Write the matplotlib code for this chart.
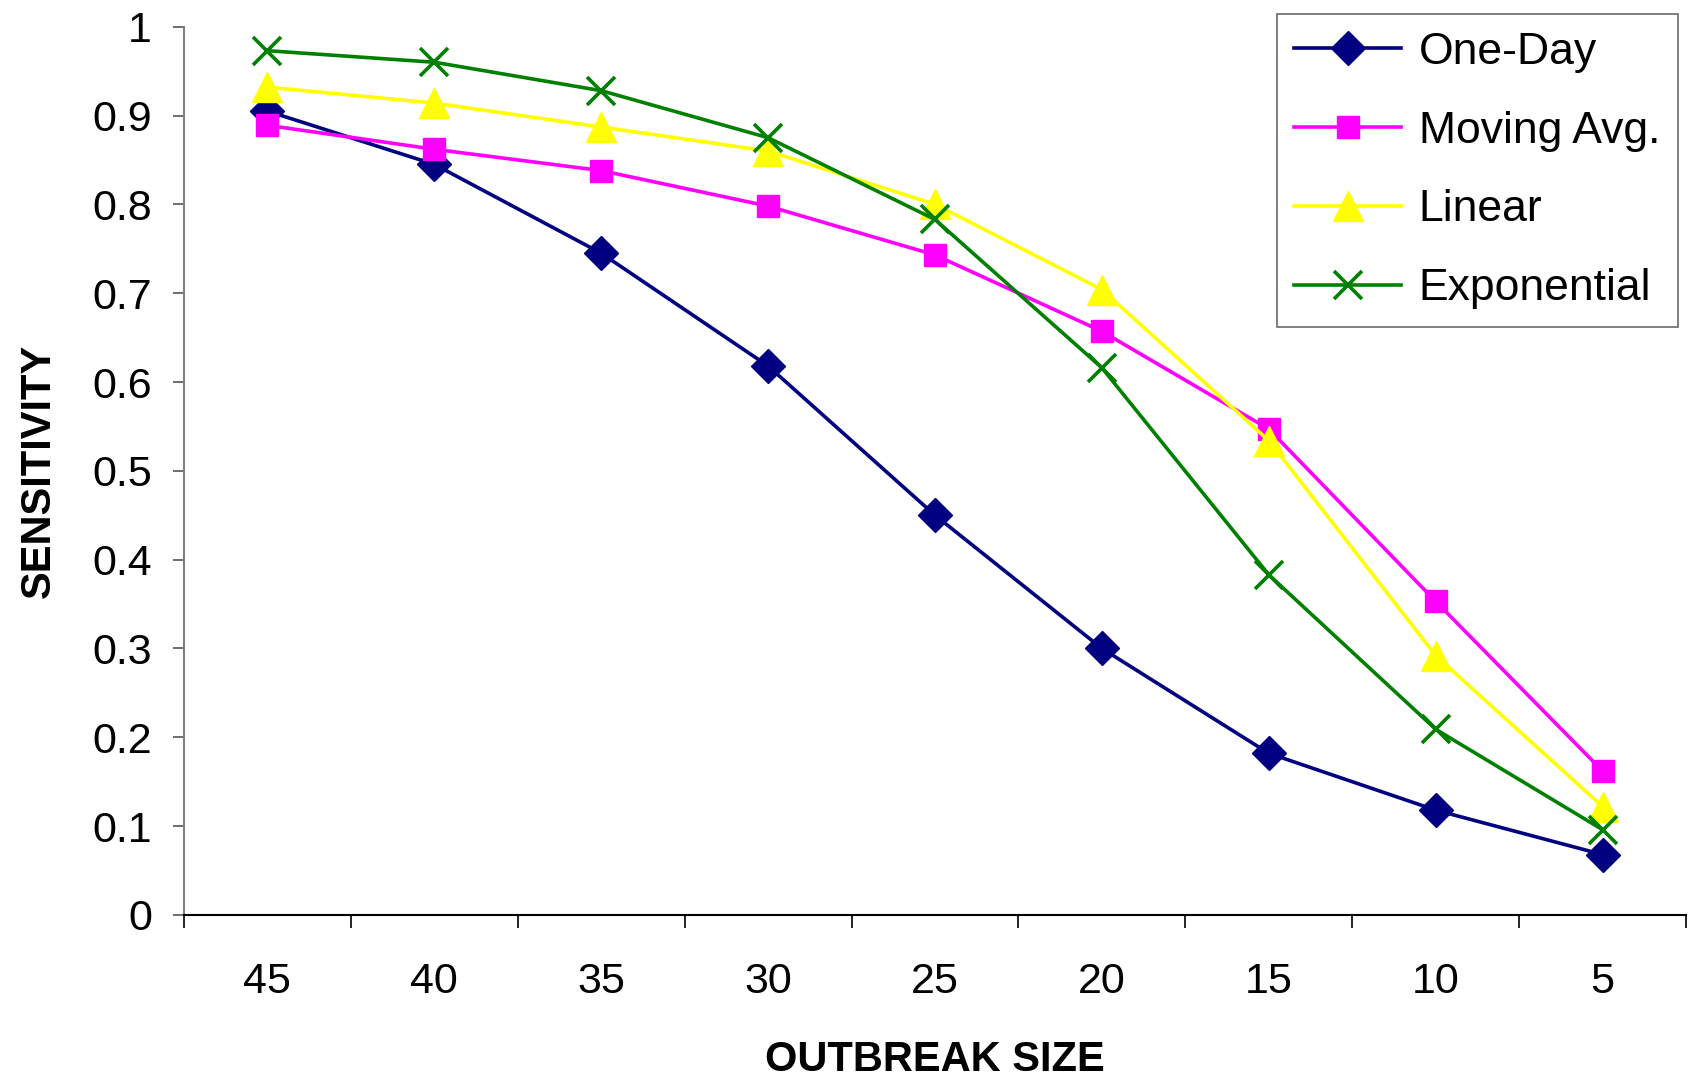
import matplotlib.pyplot as plt
import numpy as np

sizes = ['45', '40', '35', '30', '25', '20', '15', '10', '5']
one_day = [0.905, 0.845, 0.745, 0.618, 0.450, 0.300, 0.182, 0.118, 0.068]
moving_avg = [0.889, 0.862, 0.838, 0.798, 0.743, 0.657, 0.547, 0.353, 0.162]
linear = [0.932, 0.914, 0.887, 0.860, 0.800, 0.704, 0.534, 0.292, 0.122]
exponential = [0.973, 0.960, 0.928, 0.875, 0.783, 0.616, 0.383, 0.209, 0.096]

plt.rcParams['font.family'] = ['Liberation Sans', 'DejaVu Sans']

fig = plt.figure(figsize=(16.94, 10.81), dpi=100)
ax = fig.add_axes([0.1086, 0.1536, 0.8867, 0.8217])

x = np.arange(len(sizes))
ax.plot(x, one_day, color='#000080', lw=2.6, marker='D', ms=17, label='One-Day')
ax.plot(x, moving_avg, color='#FF00FF', lw=2.6, marker='s', ms=16, label='Moving Avg.')
ax.plot(x, linear, color='#FFFF00', lw=2.6, marker='^', ms=21, label='Linear')
ax.plot(x, exponential, color='#008000', lw=2.6, marker='x', ms=20, mew=2.6, label='Exponential')

ax.set_xlim(-0.5, len(sizes) - 0.5)
ax.set_ylim(0, 1)
ax.set_yticks(np.arange(0, 1.01, 0.1))
ax.set_yticklabels(['0', '0.1', '0.2', '0.3', '0.4', '0.5', '0.6', '0.7', '0.8', '0.9', '1'])
ax.set_xticks(np.arange(-0.5, len(sizes), 1.0))
ax.set_xticklabels([])
ax.set_xticks(x, minor=True)
ax.set_xticklabels(sizes, minor=True)
ax.tick_params(axis='x', which='major', length=9, width=1.2, direction='out')
ax.tick_params(axis='x', which='minor', length=0, pad=34, labelsize=31)
ax.tick_params(axis='y', length=8, width=1.2, pad=15, labelsize=31, color='#555555')

for s in ['top', 'right']:
    ax.spines[s].set_visible(False)
ax.spines['left'].set_color('#808080')
ax.spines['left'].set_linewidth(1.5)
ax.spines['bottom'].set_linewidth(1.5)

ax.set_xlabel('OUTBREAK SIZE', fontsize=30, fontweight='bold', labelpad=27)
ax.set_ylabel('SENSITIVITY', fontsize=30, fontweight='bold', labelpad=24)

leg = ax.legend(loc='upper right', bbox_to_anchor=(0.9947, 1.0143), fontsize=32,
                frameon=True, fancybox=False, edgecolor='#444444',
                handlelength=2.4, labelspacing=0.85, borderpad=0.4, handletextpad=0.4,
                borderaxespad=0)
leg.get_frame().set_linewidth(1.2)

fig.savefig('out.png', dpi=100)
